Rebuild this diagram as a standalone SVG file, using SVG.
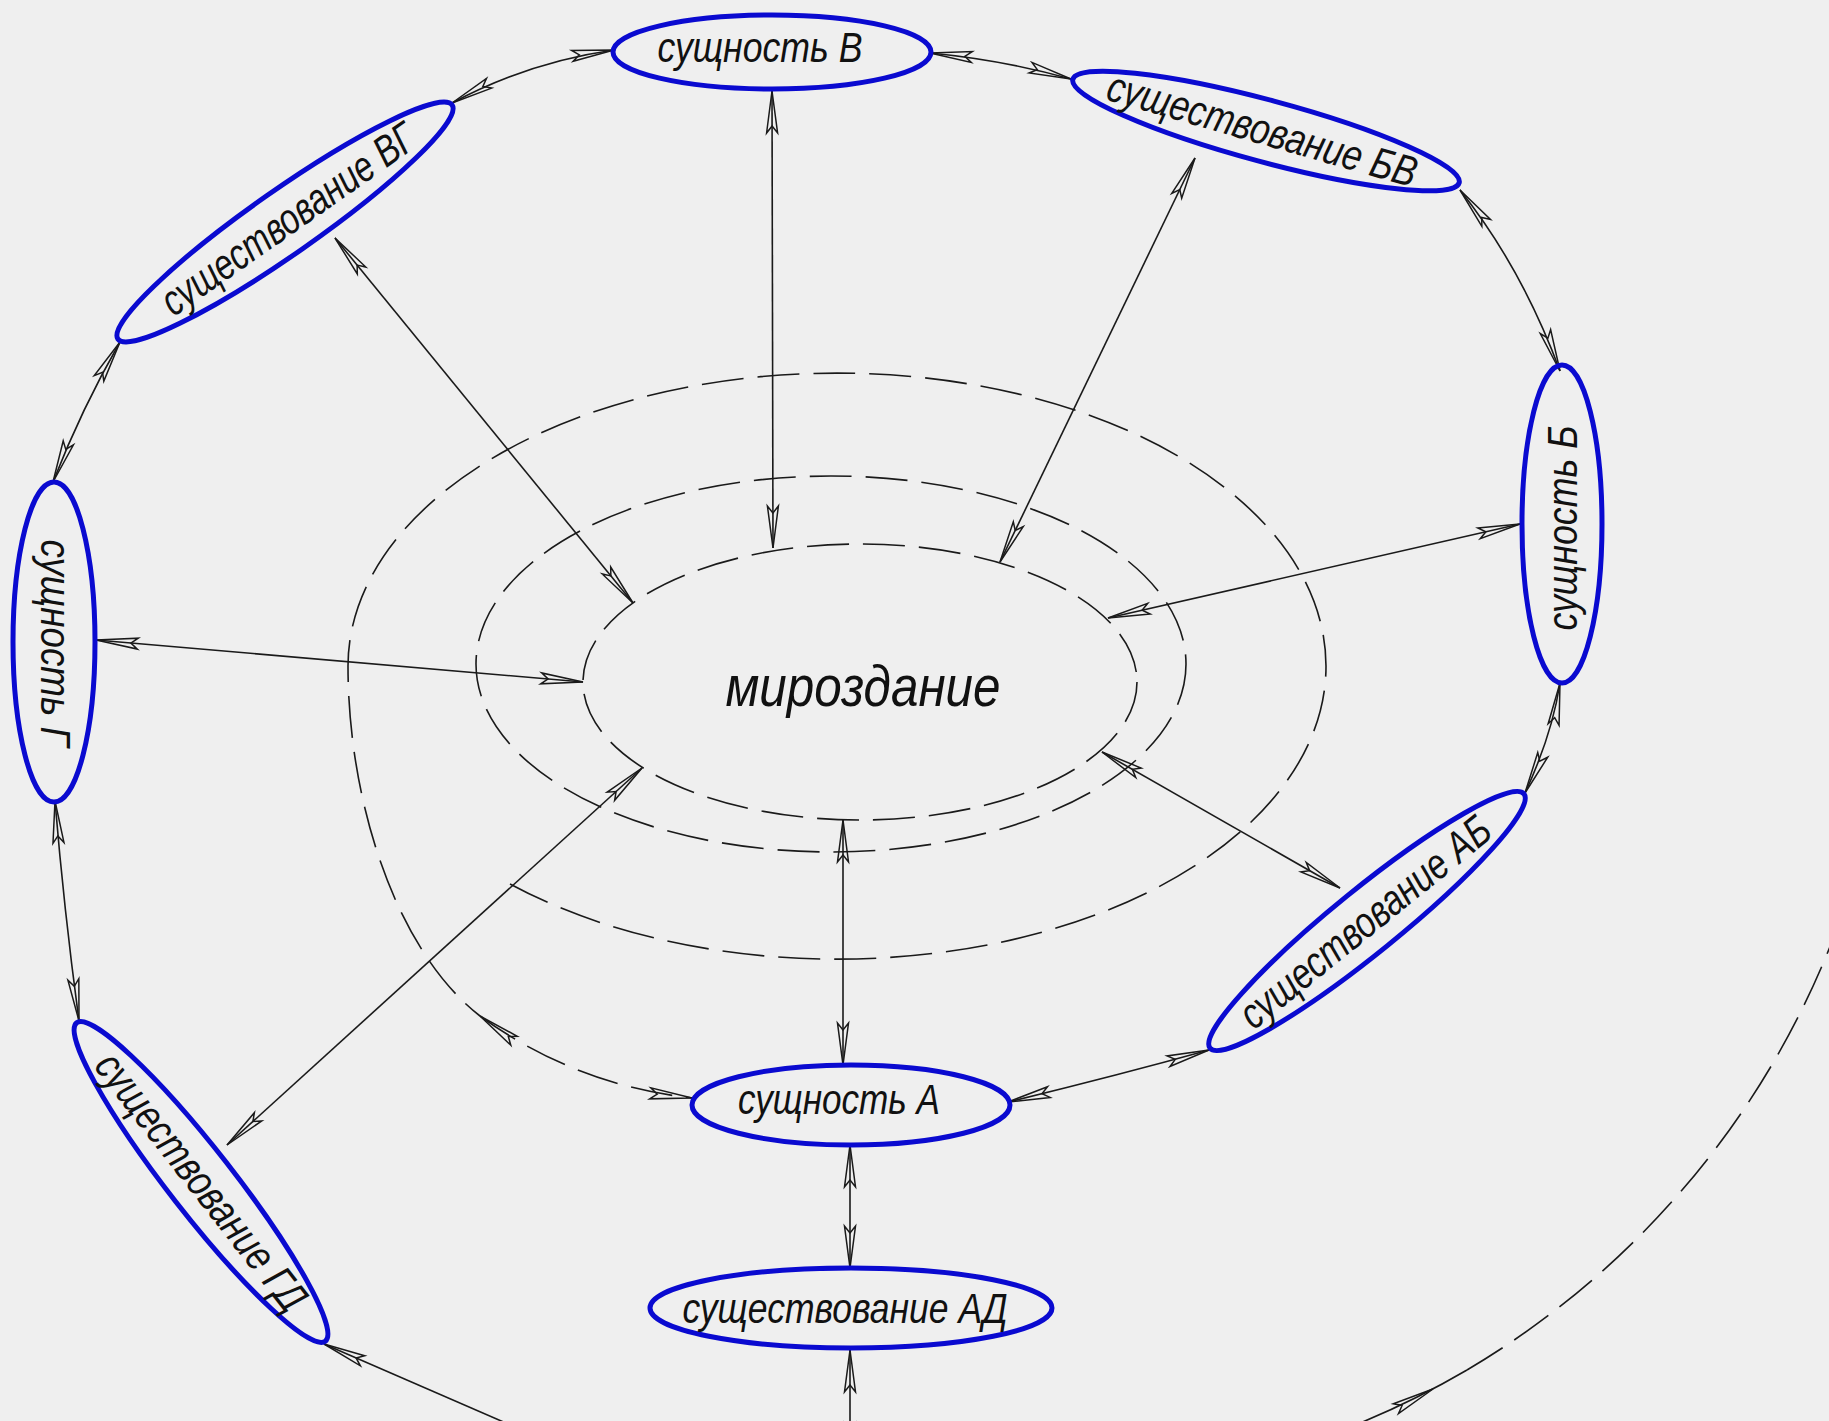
<svg xmlns="http://www.w3.org/2000/svg" width="1829" height="1421" viewBox="0 0 1829 1421">
<style>
.n{fill:none;stroke:#0a0ad0;stroke-width:5}
.t{font-family:"Liberation Sans",Arial,sans-serif;font-style:italic;font-size:43px;fill:#111;text-anchor:middle}
.c{fill:none;stroke:#1a1a1a;stroke-width:1.6;marker-start:url(#arr);marker-end:url(#arr)}
.d{fill:none;stroke:#1a1a1a;stroke-width:1.6;stroke-dasharray:42 14}
</style>
<defs>
<marker id="arr" viewBox="-46 -8 48 16" refX="0" refY="0" markerWidth="48" markerHeight="16" markerUnits="userSpaceOnUse" orient="auto-start-reverse" overflow="visible">
<path d="M0,0 L-42,-5.5 L-35,0 L-42,5.5 Z" fill="none" stroke="#1a1a1a" stroke-width="1.5" stroke-linejoin="miter"/>
</marker>
<path id="ah" d="M0,0 L-42,-5.5 L-35,0 L-42,5.5 Z" fill="none" stroke="#1a1a1a" stroke-width="1.5"/>
</defs>
<rect width="1829" height="1421" fill="#efefef"/>

<g id="spiral">
<ellipse class="d" cx="860" cy="682" rx="277" ry="138"/>
<ellipse class="d" cx="831" cy="664" rx="355" ry="188"/>
<path class="d" d="M510,884 A489,293 0 0 0 1326,666 A489,293 0 0 0 348,666 C348,800 395,950 480,1016"/>
<path class="d" d="M480,1016 Q575,1085 692,1098" style="marker-start:url(#arr);marker-end:url(#arr)"/>
<path d="M1340,1431 A865,865 0 0 0 1467,1370" fill="none" stroke="#1a1a1a" stroke-width="1.6"/>
<path class="d" d="M1467,1370 A865,865 0 0 0 1860,858"/>
<use href="#ah" transform="translate(1433,1389) rotate(-28)"/>
</g>

<g id="connectors">
<path class="c" d="M772,91 L773,548"/>
<path class="c" d="M1195,158 L1000,562"/>
<path class="c" d="M335,238 L633,603"/>
<path class="c" d="M1520,524 L1108,618"/>
<path class="c" d="M96,640 L583,682"/>
<path class="c" d="M1340,888 L1102,752"/>
<path class="c" d="M843,1065 L843,820"/>
<path class="c" d="M227,1145 L642,768"/>
<path class="c" d="M850,1145 L850,1268"/>
<path class="c" d="M850,1350 L850,1465"/>
<path class="c" d="M452,103 Q529,62 614,50"/>
<path class="c" d="M930,53 Q1003,60 1071,79"/>
<path class="c" d="M1460,190 Q1522,268 1560,371"/>
<path class="c" d="M1560,683 Q1552,735 1525,793"/>
<path class="c" d="M1209,1050 Q1115,1076 1008,1102"/>
<path class="c" d="M55,801 Q64,910 79,1021"/>
<path class="c" d="M120,342 Q82,408 53,482"/>
<path d="M324,1344 L545,1440" fill="none" stroke="#1a1a1a" stroke-width="1.6" marker-start="url(#arr)"/>
</g>

<g id="center">
<text x="863" y="706" class="t" style="font-size:58px" textLength="275" lengthAdjust="spacingAndGlyphs">мироздание</text>
</g>

<g id="node-V">
<ellipse class="n" cx="772" cy="52" rx="159" ry="37"/>
<text class="t" x="760" y="62" textLength="205" lengthAdjust="spacingAndGlyphs">сущность В</text>
</g>
<g id="node-BV" transform="translate(1266,131) rotate(15)">
<ellipse class="n" cx="0" cy="0" rx="200" ry="31"/>
<text class="t" x="-4" y="14" textLength="320" lengthAdjust="spacingAndGlyphs" transform="rotate(1)">существование БВ</text>
</g>
<g id="node-VG" transform="translate(285,222) rotate(-35)">
<ellipse class="n" cx="0" cy="0" rx="204" ry="32"/>
<text class="t" x="4" y="14" textLength="300" lengthAdjust="spacingAndGlyphs">существование ВГ</text>
</g>
<g id="node-B">
<ellipse class="n" cx="1562" cy="524" rx="40" ry="159"/>
<text class="t" transform="translate(1563,528) rotate(-90)" x="0" y="14" textLength="205" lengthAdjust="spacingAndGlyphs">сущность Б</text>
</g>
<g id="node-G">
<ellipse class="n" cx="54" cy="642" rx="41" ry="160"/>
<text class="t" transform="translate(55,643) rotate(90)" x="0" y="14" textLength="207" lengthAdjust="spacingAndGlyphs">сущность Г</text>
</g>
<g id="node-AB" transform="translate(1367,921) rotate(-39)">
<ellipse class="n" cx="0" cy="0" rx="202" ry="32"/>
<text class="t" x="-2" y="14" textLength="310" lengthAdjust="spacingAndGlyphs">существование АБ</text>
</g>
<g id="node-GD" transform="translate(201,1182) rotate(52)">
<ellipse class="n" cx="0" cy="0" rx="202" ry="32"/>
<text class="t" x="0" y="14" textLength="315" lengthAdjust="spacingAndGlyphs">существование ГД</text>
</g>
<g id="node-A">
<ellipse class="n" cx="851" cy="1105" rx="159" ry="40"/>
<text class="t" x="839" y="1114" textLength="202" lengthAdjust="spacingAndGlyphs">сущность А</text>
</g>
<g id="node-AD">
<ellipse class="n" cx="851" cy="1308" rx="201" ry="40"/>
<text class="t" x="845" y="1323" textLength="325" lengthAdjust="spacingAndGlyphs">существование АД</text>
</g>
</svg>
